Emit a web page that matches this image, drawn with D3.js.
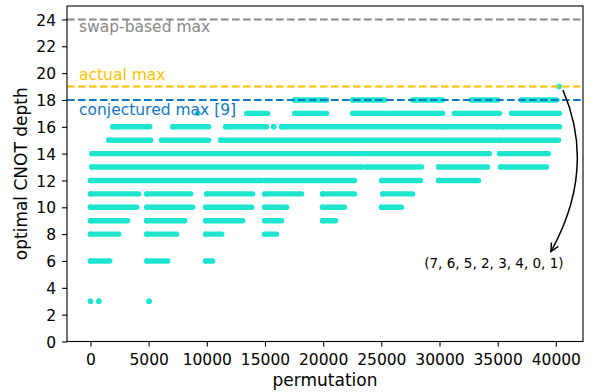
<!DOCTYPE html>
<html>
<head>
<meta charset="utf-8">
<script src="https://cdn.jsdelivr.net/npm/d3@7"></script>
<style>
  html, body { margin: 0; padding: 0; background: #fff; }
  svg { display: block; font-family: "DejaVu Sans", sans-serif; }
</style>
</head>
<body>
<svg id="chart" width="595" height="392"></svg>
<script>
// ---- data: runs of permutation indices (start, end) per optimal CNOT depth ----
const depth3  = [[0, 0], [720, 720], [5040, 5040]];
const depth6  = [[0, 1660], [4840, 6640], [9900, 10500]];
const depth8  = [[0, 2430], [4840, 7410], [9900, 11280], [14970, 16000]];
const depth9  = [[0, 3200], [4840, 8100], [9900, 13080], [14970, 16430], [19950, 21070]];
const depth10 = [[0, 3980], [4840, 8790], [9900, 13860], [14970, 16860], [19950, 21840], [25020, 26740]];
const depth11 = [[0, 4150], [4840, 8620], [10000, 13950], [14970, 18150], [19950, 22700], [25110, 27690]];
const depth12 = [[0, 14710], [14970, 22700], [25020, 28370], [29920, 33350]];
const depth13 = [[110, 23400], [23740, 28460], [29920, 34130], [35250, 39200]];
const depth14 = [[110, 23570], [23830, 34300], [35160, 39370]];
const depth15 = [[1570, 5180], [6120, 10160], [11190, 23570], [23830, 34900], [35160, 40230]];
const depth16 = [[1920, 5100], [7070, 10160], [11620, 15140], [15750, 15750], [16430, 30280], [30450, 35160], [35420, 40319]];
const depth17 = [[9220, 9220], [13430, 13860], [13940, 15230], [17550, 20300], [22530, 25280], [25540, 30280], [31290, 35160], [36190, 40319]];
const depth18 = [[17550, 20300], [22530, 25280], [27700, 30280], [32760, 34990], [37060, 40100]];
const depth19 = [[40264, 40264]];

const depthLevels = [3, 6, 8, 9, 10, 11, 12, 13, 14, 15, 16, 17, 18, 19];
const depthRuns   = [depth3, depth6, depth8, depth9, depth10, depth11, depth12, depth13, depth14, depth15, depth16, depth17, depth18, depth19];

const refValues = [24, 19, 18];
const refLabels = ["swap-based max", "actual max", "conjectured max [9]"];

const xTicks = [0, 5000, 10000, 15000, 20000, 25000, 30000, 35000, 40000];
const yTicks = [0, 2, 4, 6, 8, 10, 12, 14, 16, 18, 20, 22, 24];

const xLabel = "permutation";
const yLabel = "optimal CNOT depth";
const annotationPoint = [40264, 19];
const annotationText = "(7, 6, 5, 2, 3, 4, 0, 1)";

// ---- layout ----
const L = 67, R = 583, T = 6, B = 341.5;
const svg = d3.select("#chart");

const x = d3.scaleLinear().domain([-2016, 42335]).range([L, R]);
const y = d3.scaleLinear().domain([0, 25]).range([B, T]);

const dotColor = "#1de5cf";
const refColors = ["#888888", "#ffbf00", "#0f78c8"];

// ---- scatter runs ----
const rows = [];
depthLevels.forEach((d, i) => depthRuns[i].forEach(r => rows.push({ d, a: r[0], b: r[1] })));

const gDots = svg.append("g");
gDots.selectAll("line").data(rows).join("line")
  .attr("x1", r => x(r.a)).attr("x2", r => x(r.b))
  .attr("y1", r => y(r.d)).attr("y2", r => y(r.d))
  .attr("stroke", dotColor).attr("stroke-width", 5.4).attr("stroke-linecap", "round");
gDots.selectAll("circle").data(rows).join("circle")
  .attr("cx", r => x(r.a)).attr("cy", r => y(r.d)).attr("r", 2.7)
  .attr("fill", dotColor);

// ---- reference lines ----
const gRef = svg.append("g");
refValues.forEach((v, i) => {
  gRef.append("line")
    .attr("x1", L).attr("x2", R).attr("y1", y(v)).attr("y2", y(v))
    .attr("stroke", refColors[i]).attr("stroke-width", 2)
    .attr("stroke-dasharray", "7.6,3.4");
});
const labelOffsets = [12.5, -6.5, 15]; // baseline offsets from line
refValues.forEach((v, i) => {
  svg.append("text")
    .attr("x", L + 12).attr("y", y(v) + labelOffsets[i])
    .attr("fill", refColors[i]).attr("font-size", "15.5px")
    .text(refLabels[i]);
});

// ---- axes ----
const xAxis = d3.axisBottom(x).tickValues(xTicks).tickSize(5).tickPadding(5).tickFormat(d3.format("d"));
const yAxis = d3.axisLeft(y).tickValues(yTicks).tickSize(5).tickPadding(5).tickFormat(d3.format("d"));

const gx = svg.append("g").attr("transform", `translate(0,${B})`).call(xAxis);
const gy = svg.append("g").attr("transform", `translate(${L},0)`).call(yAxis);
[gx, gy].forEach(g => {
  g.select(".domain").remove();
  g.selectAll(".tick line").attr("stroke", "#000").attr("stroke-width", 1.1);
  g.selectAll(".tick text").attr("fill", "#000").attr("font-size", "15.5px")
    .attr("font-family", "DejaVu Sans, sans-serif");
});
gx.selectAll(".tick text").attr("dy", "0.71em").attr("y", 12);
gy.selectAll(".tick text").attr("x", -11).attr("dy", "0.36em");

// frame
svg.append("rect").attr("x", L).attr("y", T).attr("width", R - L).attr("height", B - T)
  .attr("fill", "none").attr("stroke", "#000").attr("stroke-width", 1.1);

// axis labels
svg.append("text").attr("x", (L + R) / 2).attr("y", 385.5)
  .attr("text-anchor", "middle").attr("font-size", "17px").attr("fill", "#000")
  .text(xLabel);
svg.append("text")
  .attr("transform", `translate(27,${(T + B) / 2}) rotate(-90)`)
  .attr("text-anchor", "middle").attr("font-size", "17px").attr("fill", "#000")
  .text(yLabel);

// ---- annotation ----
const px = x(annotationPoint[0]), py = y(annotationPoint[1]);
const sx = px + 4, sy = py + 3.5;           // start (shrunk from point)
const ex = px - 8, ey = py + 165;            // arrow tip, above the text
const cx = px + 38, cy = (sy + ey) / 2 - 2;  // curve control point (arc to the right)
svg.append("path")
  .attr("d", `M${sx},${sy} Q${cx},${cy} ${ex},${ey}`)
  .attr("fill", "none").attr("stroke", "#000").attr("stroke-width", 1.5);
const ang = Math.atan2(ey - cy, ex - cx);
const hl = 9, hw = 0.45;
const h1 = [ex - hl * Math.cos(ang - hw), ey - hl * Math.sin(ang - hw)];
const h2 = [ex - hl * Math.cos(ang + hw), ey - hl * Math.sin(ang + hw)];
svg.append("path")
  .attr("d", `M${h1[0]},${h1[1]} L${ex},${ey} L${h2[0]},${h2[1]}`)
  .attr("fill", "none").attr("stroke", "#000").attr("stroke-width", 1.5);
svg.append("text")
  .attr("x", px - 65).attr("y", ey + 16)
  .attr("text-anchor", "middle").attr("font-size", "13.5px").attr("fill", "#000")
  .text(annotationText);
</script>
</body>
</html>
